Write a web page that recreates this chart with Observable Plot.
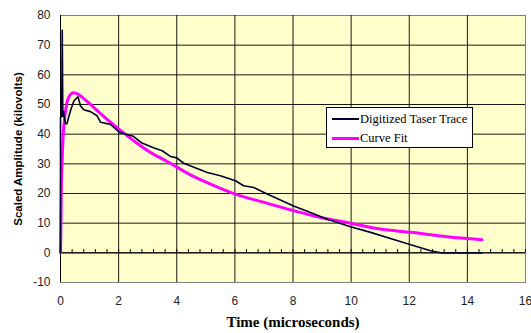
<!DOCTYPE html>
<html><head><meta charset="utf-8">
<script src="https://cdn.jsdelivr.net/npm/d3@7"></script>
<script src="https://cdn.jsdelivr.net/npm/@observablehq/plot@0.6"></script>
<style>
body{margin:0;background:#fff;}
#wrap{position:relative;width:531px;height:333px;}
#legend{position:absolute;left:326px;top:107px;width:145px;height:39px;background:#fff;border:1px solid #000;font-family:"Liberation Serif",serif;font-size:12.5px;color:#000;}
.row{position:absolute;left:5px;display:flex;align-items:center;white-space:nowrap;}
.sw{width:27px;margin-right:1px;}
</style></head>
<body><div id="wrap"></div>
<script>
const traceT = [0.0, 0.0, 0.0, 0.04, 0.06, 0.08, 0.1, 0.17, 0.22, 0.34, 0.46, 0.6, 0.69, 0.8, 1.03, 1.26, 1.38, 1.72, 2.03, 2.5, 2.8, 3.2, 3.5, 3.78, 4.0, 4.24, 5.05, 5.5, 6.02, 6.3, 6.65, 7.11, 8.02, 8.6, 9.18, 9.98, 10.67, 11.8, 12.73, 13.08, 14.5];
const traceV = [0, 27.6, 45.6, 46, 75, 46, 47.8, 43.5, 43.5, 47.8, 51.2, 52.6, 49.5, 48.2, 47.6, 46.2, 44, 43.3, 40.6, 39.3, 37, 35.4, 34.4, 32.5, 32, 30.2, 27.1, 26, 24.3, 22.6, 22, 19.8, 15.8, 13.6, 11.3, 8.8, 6.9, 3.5, 0.7, 0, 0];
const fitT = [0, 0.015, 0.03, 0.06, 0.1, 0.15, 0.22, 0.29, 0.38, 0.46, 0.6, 0.75, 1.0, 1.2, 1.38, 1.83, 2.06, 2.52, 3.1, 3.67, 4.47, 5.16, 6.02, 7.0, 8.03, 8.95, 9.98, 11.0, 12.05, 13.3, 14.5];
const fitV = [0, 10, 22, 32, 41, 46, 50.5, 52.6, 53.7, 54, 53.5, 52.4, 50.3, 48.5, 46.9, 43.1, 41.3, 37.8, 33.8, 30.8, 26.3, 23.2, 19.8, 17, 14.2, 11.9, 10, 8, 6.9, 5.4, 4.4];
const xTicks = [0, 2, 4, 6, 8, 10, 12, 14, 16];
const yTicks = [-10, 0, 10, 20, 30, 40, 50, 60, 70, 80];
const seriesNames = ["Digitized Taser Trace", "Curve Fit"];
const seriesColors = ["#000033", "#ff00ff"];
const xLabel = "Time (microseconds)";
const yLabel = "Scaled Amplitude (kilovolts)";

const trace = traceT.map((t, i) => ({t, v: traceV[i]}));
const fit = fitT.map((t, i) => ({t, v: fitV[i]}));
const minorTicks = d3.range(0, 16.001, 0.4);

const chart = Plot.plot({
  width: 531, height: 333,
  marginLeft: 60, marginRight: 6, marginTop: 15, marginBottom: 51,
  style: {fontFamily: "'Liberation Sans', Arial, sans-serif", fontSize: "12px", color: "#222", background: "#fff"},
  x: {domain: [0, 16]},
  y: {domain: [-10, 80]},
  marks: [
    Plot.frame({fill: "#ffffcc", stroke: "#808080"}),
    Plot.ruleX(xTicks.slice(1, -1), {stroke: "#000", strokeWidth: 1, strokeOpacity: 0.9}),
    Plot.ruleY(yTicks.slice(1, -1), {stroke: "#000", strokeWidth: 1, strokeOpacity: 0.9}),
    Plot.ruleY([0], {stroke: "#000", strokeWidth: 1}),
    Plot.ruleX(minorTicks, {y1: 0, y2: 1.1, stroke: "#000"}),
    Plot.ruleX([0], {stroke: "#000", strokeWidth: 1}),
    Plot.axisX({ticks: xTicks, tickSize: 0, tickPadding: 14, label: null, tickFormat: d => d}),
    Plot.axisY({ticks: yTicks, tickSize: 0, tickPadding: 10, label: null, tickFormat: d => d}),
    Plot.line(fit, {x: "t", y: "v", stroke: seriesColors[1], strokeWidth: 3, curve: "monotone-x"}),
    Plot.line(trace, {x: "t", y: "v", stroke: seriesColors[0], strokeWidth: 1.6}),
    Plot.text([yLabel], {frameAnchor: "left", textAnchor: "middle", rotate: -90, dx: -42, fontWeight: "bold", fontSize: 11.5, fill: "#000"}),
    Plot.text([xLabel], {frameAnchor: "bottom", dy: 44, fontWeight: "bold", fontSize: 15, fontFamily: "'Liberation Serif', 'Times New Roman', serif", fill: "#000"})
  ]
});
const wrap = document.getElementById("wrap");
wrap.appendChild(chart);
const leg = document.createElement("div");
leg.id = "legend";
seriesNames.forEach((n, i) => {
  const r = document.createElement("div");
  r.className = "row";
  r.style.top = (i === 0 ? 4 : 23) + "px";
  r.style.height = "14px";
  const sw = document.createElement("div");
  sw.className = "sw";
  sw.style.borderTop = (i === 0 ? 2 : 3) + "px solid " + seriesColors[i];
  const tx = document.createElement("span");
  tx.textContent = n;
  r.appendChild(sw); r.appendChild(tx);
  leg.appendChild(r);
});
wrap.appendChild(leg);
</script></body></html>
